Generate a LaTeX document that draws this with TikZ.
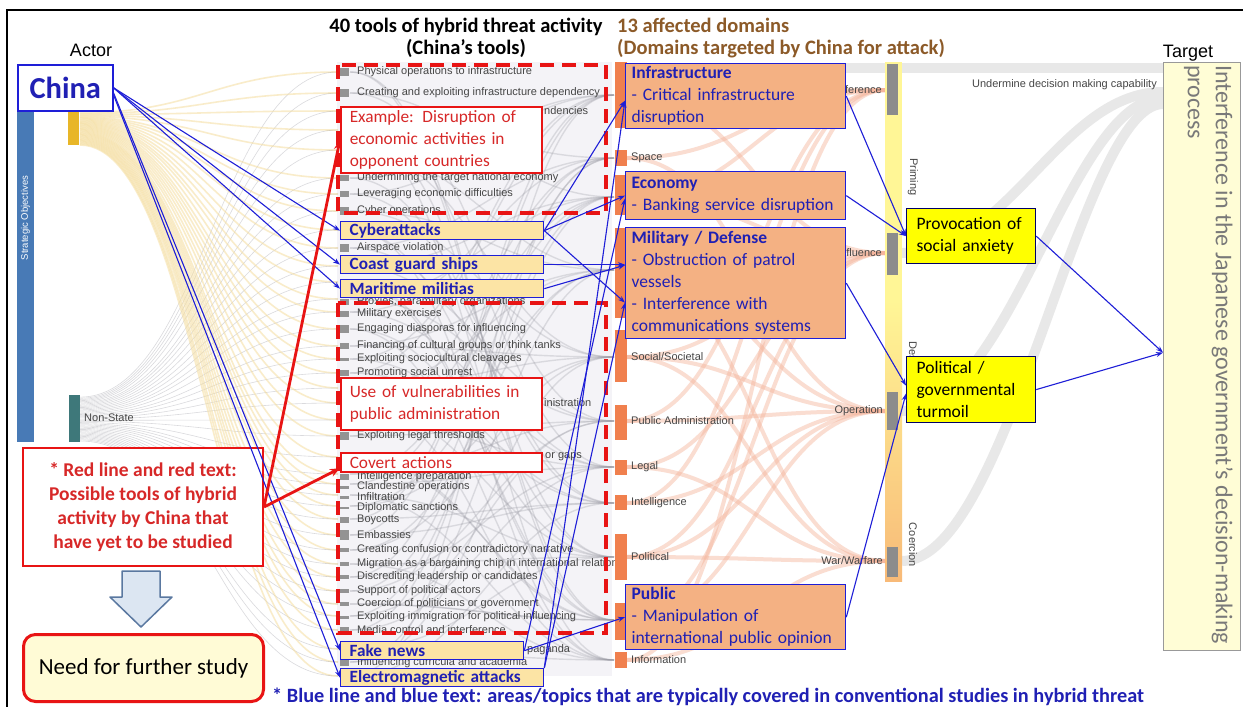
\documentclass[tikz,border=0pt]{standalone}
\usepackage{fontspec}
\setmainfont{Carlito}
\newfontfamily\arialf{Liberation Sans}
\usetikzlibrary{arrows.meta,calc}
\definecolor{btxt}{RGB}{32,32,180}
\definecolor{bline}{RGB}{30,30,215}
\definecolor{toolfill}{RGB}{252,228,165}
\definecolor{domfill}{RGB}{244,177,131}
\definecolor{rline}{RGB}{232,20,20}
\definecolor{rtxt}{RGB}{215,40,40}
\definecolor{brownhd}{RGB}{140,90,40}
\definecolor{stratblue}{RGB}{72,122,182}
\definecolor{goldbar}{RGB}{232,182,40}
\definecolor{tealbar}{RGB}{62,120,122}
\definecolor{dombar}{RGB}{240,128,78}
\definecolor{phyellow}{RGB}{255,246,150}
\definecolor{phorange}{RGB}{248,186,120}
\definecolor{phgray}{RGB}{140,140,140}
\definecolor{lbl}{RGB}{70,70,70}
\definecolor{targetfill}{RGB}{255,253,214}
\definecolor{yellowbox}{RGB}{255,255,0}
\definecolor{flowgold}{RGB}{245,222,160}
\definecolor{flowgray}{RGB}{150,150,160}
\definecolor{flowpink}{RGB}{244,180,155}
\definecolor{needfill}{RGB}{255,251,214}
\definecolor{arrfill}{RGB}{220,230,242}
\definecolor{arrdraw}{RGB}{90,120,160}
\definecolor{backdrop}{RGB}{244,243,247}
\definecolor{tgtgray}{RGB}{232,232,232}
\tikzset{
 toolbox/.style={draw=bline, line width=1.3pt, fill=toolfill, text=btxt, font=\bfseries\fontsize{17.2}{18}\selectfont, anchor=north west, inner xsep=9pt, inner ysep=0pt, minimum height=18pt, align=left},
 redbox/.style={draw=rline, line width=1.5pt, fill=white, text=rtxt, font=\fontsize{17.3}{22}\selectfont, anchor=north west, inner xsep=9pt, inner ysep=0pt, align=left, text width=183pt},
 dombox/.style={draw=bline, line width=1.3pt, fill=domfill, text=btxt, font=\fontsize{17.5}{22}\selectfont, anchor=north west, inner xsep=6pt, inner ysep=0pt, align=left, text width=208pt},
 effbox/.style={draw=black!60!blue, line width=1.2pt, fill=yellowbox, text=black, font=\fontsize{17.5}{22}\selectfont, anchor=north west, inner xsep=10pt, inner ysep=0pt, align=left, text width=109pt},
 barr/.style={-{Stealth[length=7pt,width=5pt]}, draw=bline, line width=1.1pt},
 rarr/.style={-{Stealth[length=10pt,width=8pt]}, draw=rline, line width=2.8pt},
 sk/.style={font=\arialf\fontsize{11}{12}\selectfont, text=lbl, inner sep=0pt},
 dashbox/.style={draw=rline, line width=4pt, dash pattern=on 14pt off 8pt},
 goldflow/.style={draw=flowgold, line width=1.6pt, opacity=0.55},
 grayflow/.style={draw=flowgray, line width=0.6pt, opacity=0.35},
 toolflow/.style={draw=flowgray, line width=1.4pt, opacity=0.28},
 pinkflow/.style={draw=flowpink, line width=4pt, opacity=0.45},
 tgtflow/.style={draw=tgtgray, line width=10pt},
}
\begin{document}
\begin{tikzpicture}[x=1pt,y=-1pt]
\useasboundingbox (0,0) rectangle (1243,707);
\fill[white] (0,0) rectangle (1243,707);
% frame
\draw[line width=2pt] (7,707) -- (7,10) -- (1243,10);
% backdrop of tools column
\fill[backdrop] (337,62) rectangle (612,676);
% flows
\foreach \yt [count=\i] in {72,93,111,130,150,178,194,211,230,248,266,282,299,312,329,346,359,373,388,403,420,436,457,474,484,495,506,519,535,550,564,577,591,604,616,630,649,662,676}{
  \pgfmathtruncatemacro{\ia}{mod(\i*7+2,11)}
  \pgfmathtruncatemacro{\ib}{mod(\i*4+5,11)}
  \pgfmathsetmacro{\da}{{95,158,197,270,357,421,467,503,557,620,660}[\ia]}
  \pgfmathsetmacro{\db}{{95,158,197,270,357,421,467,503,557,620,660}[\ib]}
  \draw[toolflow] (350,\yt) .. controls (480,\yt) and (490,\da) .. (614,\da);
  \draw[toolflow] (350,\yt) .. controls (470,\yt) and (500,\db) .. (614,\db);
  \pgfmathsetmacro{\ya}{112+33*\i/39}
  \draw[goldflow] (80,\ya) .. controls (200,\ya) and (215,\yt) .. (338,\yt);
  \pgfmathsetmacro{\yn}{396+45*\i/39}
  \draw[grayflow] (80,\yn) .. controls (200,\yn) and (220,\yt) .. (338,\yt);
}
\foreach \a/\b in {95/90,95/253,158/90,158/411,197/253,197/90,270/411,270/561,357/253,357/411,357/561,421/411,421/90,467/253,467/561,503/90,503/411,557/253,557/561,557/411,620/411,620/253,660/561,660/90}
  \draw[pinkflow] (627,\a) .. controls (750,\a) and (760,\b) .. (885,\b);
\draw[tgtflow] (845,68) -- (1163,68);
\draw[tgtflow] (902,253) .. controls (1010,253) and (1060,92) .. (1163,92);
\draw[tgtflow] (902,411) .. controls (1010,411) and (1070,98) .. (1163,98);
\draw[tgtflow] (902,561) .. controls (1010,561) and (1080,104) .. (1163,104);
% actor bars
\fill[stratblue] (17,112) rectangle (34,442);
\node[rotate=90, text=white, font=\arialf\fontsize{9.5}{10}\selectfont, inner sep=0pt] (strat) at (25.5,218) {Strategic Objectives};
\fill[goldbar] (68,112) rectangle (79,145);
\fill[tealbar] (69,395) rectangle (80,442);
\node[sk, anchor=west] (ns) at (84,418) {Non-State};
% tool markers and labels
\foreach \y/\h/\t [count=\i] in {72/8/Physical operations to infrastructure,93/8/Creating and exploiting infrastructure dependency,178/6/Undermining the target national economy,194/6/Leveraging economic difficulties,211/8/Cyber operations,248/8/Airspace violation,302/6/{Proxies, paramilitary organizations},314/6/Military exercises,329/8/Engaging diasporas for influencing,346/6/Financing of cultural groups or think tanks,359/3/Exploiting sociocultural cleavages,373/6/Promoting social unrest,436/8/Exploiting legal thresholds,477/6/Intelligence preparation,487/3/Clandestine operations,497/3/Infiltration,508/2/Diplomatic sanctions,520/6/Boycotts,535/10/Embassies,550/4/Creating confusion or contradictory narrative,564/4/Migration as a bargaining chip in international relations,577/4/Discrediting leadership or candidates,591/4/Support of political actors,604/4/Coercion of politicians or government,617/3/Exploiting immigration for political influencing,630/6/Media control and interference,663/6/Influencing curricula and academia}{
  \fill[gray!85] (340,\y-\h/2) rectangle (349,\y+\h/2);
  \node[sk, anchor=west] (tl\i) at (357,\y) {\t};
}
\foreach \y/\h in {111/8,130/8,150/8,266/6,388/6,403/6,420/6,457/6}
  \fill[gray!85] (340,\y-\h/2) rectangle (349,\y+\h/2);
\node[sk, anchor=west] (dep) at (544,111) {ndencies};
\node[sk, anchor=west] (admin) at (544,403) {inistration};
\node[sk, anchor=west] (gaps) at (545,457) {or gaps};
\node[sk, anchor=west] (propa) at (527,650) {paganda};
% domain bars and labels
\foreach \a/\b in {62/128,150/166,175/215,228/318,330/382,405/440,460/475,495/510,534/580,603/640,652/668}
  \fill[dombar] (615,\a) rectangle (627,\b);
\foreach \y/\t [count=\i] in {158/Space,357/{Social/Societal},421/Public Administration,467/Legal,503/Intelligence,557/Political,660/Information}
  \node[sk, anchor=west] (dl\i) at (631,\y) {\t};
% phase bar
\fill[phyellow] (885,62) rectangle (902,300);
\shade[top color=phyellow, bottom color=phorange] (885,300) rectangle (902,581);
\fill[phgray] (887,64) rectangle (898,115);
\fill[phgray] (887,233) rectangle (898,275);
\fill[phgray] (887,392) rectangle (898,430);
\fill[phgray] (887,547) rectangle (898,577);
\node[sk, anchor=east] (pint) at (882,90) {Interference};
\node[sk, anchor=east] (pinf) at (882,253) {Influence};
\node[sk, anchor=east] (pop) at (883,411) {Operation};
\node[sk, anchor=east] (pwar) at (883,561) {War/Warfare};
\node[sk, rotate=-90] (prim) at (913,177) {Priming};
\node[sk, rotate=-90, anchor=west] (pdes) at (913,341) {Destabilization};
\node[sk, rotate=-90] (pcoe) at (913,545) {Coercion};
\node[sk, anchor=east] (und) at (1157,85) {Undermine decision making capability};
% target
\node[draw=gray!80, line width=1.2pt, fill=targetfill, anchor=north west, minimum width=77pt, minimum height=588pt, inner sep=0pt] (target) at (1163,62) {};
\node[rotate=-90, anchor=north west, align=left, text=gray!95!black, font=\fontsize{24}{28}\selectfont, inner sep=0pt] (ttext) at (1233,65) {Interference in the Japanese government’s decision-making\\process};
% headers
\node[font=\arialf\fontsize{18}{20}\selectfont, anchor=base, inner sep=0pt] (actor) at (91,56) {Actor};
\node[font=\arialf\fontsize{18}{20}\selectfont, anchor=base, inner sep=0pt] (tgt) at (1188,57) {Target};
\node[font=\bfseries\fontsize{20.5}{22}\selectfont, align=center, anchor=north, inner sep=0pt] (h1) at (466,18) {40 tools of hybrid threat activity\\(China’s tools)};
\node[font=\bfseries\fontsize{20.5}{22}\selectfont, align=left, anchor=north west, text=brownhd, inner sep=0pt] (h2) at (617,18) {13 affected domains\\(Domains targeted by China for attack)};
% dashed groups
\draw[dashbox] (338,65) rectangle (606,213);
\draw[dashbox] (338,303) rectangle (606,633);
% China
\node[draw=bline, line width=1.5pt, fill=white, text=btxt, font=\bfseries\fontsize{30.5}{32}\selectfont, anchor=north west, minimum width=95pt, minimum height=46pt, inner sep=0pt] (china) at (17,64) {China};
% red boxes
\node[redbox, minimum height=66pt] (ex) at (340,106) {Example: Disruption of\\economic activities in\\opponent countries};
\node[redbox, minimum height=52pt] (vul) at (340,377) {Use of vulnerabilities in\\public administration};
\node[redbox, minimum height=19pt] (cov) at (340,452) {Covert actions};
% tool boxes
\node[toolbox, text width=185pt] (cyber) at (340,221) {Cyberattacks};
\node[toolbox, text width=185pt] (cg) at (340,255) {Coast guard ships};
\node[toolbox, text width=185pt] (mm) at (340,279) {Maritime militias};
\node[toolbox, text width=165pt] (fake) at (340,641) {Fake news};
\node[toolbox, text width=185pt] (elec) at (340,668) {Electromagnetic attacks};
% domain boxes
\node[dombox, minimum height=65pt] (infra) at (625,63) {\textbf{Infrastructure}\\- Critical infrastructure\\disruption};
\node[dombox, minimum height=48pt] (econ) at (625,171) {\textbf{Economy}\\- Banking service disruption};
\node[dombox, minimum height=111pt] (mil) at (625,227) {\textbf{Military / Defense}\\- Obstruction of patrol\\vessels\\- Interference with\\communications systems};
\node[dombox, minimum height=65pt] (pub) at (625,584) {\textbf{Public}\\- Manipulation of\\international public opinion};
% effect boxes
\node[effbox, minimum height=55pt] (prov) at (906,208) {Provocation of\\social anxiety};
\node[effbox, minimum height=66pt] (pol) at (906,356) {Political /\\governmental\\turmoil};
% left key boxes
\node[draw=rline, line width=2pt, fill=white, text=rtxt, font=\bfseries\fontsize{19.5}{24}\selectfont, align=center, anchor=north west, minimum width=240pt, minimum height=118pt, inner sep=0pt] (redkey) at (22,447) {* Red line and red text:\\Possible tools of hybrid\\activity by China that\\have yet to be studied};
\draw[fill=arrfill, draw=arrdraw, line width=1.5pt, line join=round] (122,571) -- (160,571) -- (160,597) -- (172,597) -- (141,627) -- (110,597) -- (122,597) -- cycle;
\node[draw=rline, line width=3pt, fill=needfill, rounded corners=12pt, font=\fontsize{23}{26}\selectfont, anchor=north west, minimum width=240pt, minimum height=67pt, inner sep=0pt] (need) at (22,633) {Need for further study};
\node[anchor=base west, text=btxt, font=\bfseries\fontsize{20.3}{22}\selectfont, inner sep=0pt] (bluekey) at (272,702) {* Blue line and blue text: areas/topics that are typically covered in conventional studies in hybrid threat};
% blue arrows
\draw[barr] (china.east) -- (cyber.west);
\draw[barr] (china.east) -- (cg.west);
\draw[barr] (china.east) -- (mm.west);
\draw[barr] ([yshift=-5pt]china.east) -- (fake.west);
\draw[barr] ([yshift=-7pt]china.east) -- (elec.west);
\draw[barr] (cyber.east) -- ([yshift=-4.5pt]infra.west);
\draw[barr] (cyber.east) -- (econ.west);
\draw[barr] (cyber.east) -- ([yshift=-19.5pt]mil.west);
\draw[barr] (cg.east) -- (cg.east -| mil.west);
\draw[barr] (mm.east) -- ([yshift=18pt]mil.west);
\draw[barr] (fake.east) -- ([yshift=-3pt]econ.west);
\draw[barr] (fake.east) -- (pub.west);
\draw[barr] (elec.north east) -- ([yshift=-4.5pt]infra.west);
\draw[barr] (elec.north east) -- ([yshift=-19.5pt]mil.west);
\draw[barr] (infra.east) -- (prov.west);
\draw[barr] (econ.east) -- (prov.west);
\draw[barr] (mil.east) -- ([yshift=4pt]pol.west);
\draw[barr] (pub.east) -- ([yshift=-4pt]pol.west);
\draw[barr] (prov.east) -- ([yshift=4pt]target.west);
\draw[barr] (pol.east) -- ([yshift=4pt]target.west);
% red arrows
\draw[rarr] (redkey.east) -- (ex.west);
\draw[rarr] (redkey.east) -- ([yshift=-6pt]cov.west);
\end{tikzpicture}
\end{document}
